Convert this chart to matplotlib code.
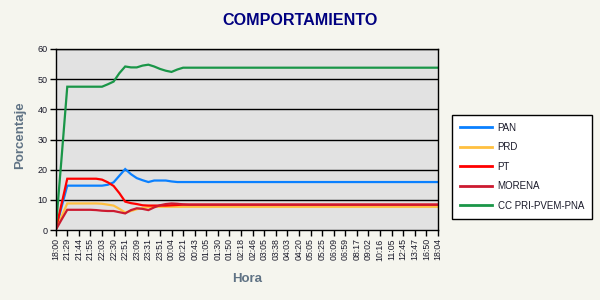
import matplotlib
matplotlib.use("Agg")
import matplotlib.pyplot as plt
import numpy as np

# Time-stamp labels (one label every second reading)
hour_labels = [
    "18:00", "21:29", "21:44", "21:55", "22:03", "22:30", "22:51", "23:09",
    "23:31", "23:51", "00:04", "00:21", "00:43", "01:05", "01:30", "01:50",
    "02:18", "02:46", "03:05", "03:38", "04:03", "04:20", "05:05", "05:25",
    "06:09", "06:59", "08:17", "09:02", "10:16", "11:05", "12:45", "13:47",
    "16:50", "18:04",
]

# Percentage per reading (67 readings)
pan = [
    0.0, 7.5, 14.7, 14.7, 14.7, 14.7, 14.7, 14.7, 14.7, 15.0, 15.8, 18.0,
    20.2, 18.5, 17.2, 16.5, 15.9, 16.4, 16.4, 16.4, 16.1, 15.9, 15.9, 15.9,
    15.9, 15.9, 15.9, 15.9, 15.9, 15.9, 15.9, 15.9, 15.9, 15.9, 15.9, 15.9,
    15.9, 15.9, 15.9, 15.9, 15.9, 15.9, 15.9, 15.9, 15.9, 15.9, 15.9, 15.9,
    15.9, 15.9, 15.9, 15.9, 15.9, 15.9, 15.9, 15.9, 15.9, 15.9, 15.9, 15.9,
    15.9, 15.9, 15.9, 15.9, 15.9, 15.9, 15.9,
]
prd = [
    0.0, 4.4, 8.8, 8.8, 8.8, 8.8, 8.8, 8.8, 8.7, 8.4, 8.1, 7.0,
    5.8, 6.3, 6.9, 7.3, 7.6, 7.7, 7.7, 7.7, 7.7, 7.7, 7.7, 7.7,
    7.7, 7.7, 7.7, 7.7, 7.7, 7.7, 7.7, 7.7, 7.7, 7.7, 7.7, 7.7,
    7.7, 7.7, 7.7, 7.7, 7.7, 7.7, 7.7, 7.7, 7.7, 7.7, 7.7, 7.7,
    7.7, 7.7, 7.7, 7.7, 7.7, 7.7, 7.7, 7.7, 7.7, 7.7, 7.7, 7.7,
    7.7, 7.7, 7.7, 7.7, 7.7, 7.7, 7.7,
]
pt = [
    0.0, 8.5, 17.0, 17.0, 17.0, 17.0, 17.0, 17.0, 16.7, 15.8, 14.6, 12.2,
    9.4, 8.9, 8.6, 8.2, 8.1, 8.1, 8.1, 8.1, 8.2, 8.3, 8.4, 8.4,
    8.4, 8.4, 8.4, 8.4, 8.4, 8.4, 8.4, 8.4, 8.4, 8.4, 8.4, 8.4,
    8.4, 8.4, 8.4, 8.4, 8.4, 8.4, 8.4, 8.4, 8.4, 8.4, 8.4, 8.4,
    8.4, 8.4, 8.4, 8.4, 8.4, 8.4, 8.4, 8.4, 8.4, 8.4, 8.4, 8.4,
    8.4, 8.4, 8.4, 8.4, 8.4, 8.4, 8.4,
]
morena = [
    0.0, 3.4, 6.7, 6.7, 6.7, 6.7, 6.7, 6.6, 6.4, 6.3, 6.3, 5.9,
    5.5, 6.6, 7.2, 7.0, 6.6, 7.5, 8.2, 8.6, 8.8, 8.7, 8.5, 8.4,
    8.4, 8.4, 8.4, 8.4, 8.4, 8.4, 8.4, 8.4, 8.4, 8.4, 8.4, 8.4,
    8.4, 8.4, 8.4, 8.4, 8.4, 8.4, 8.4, 8.4, 8.4, 8.4, 8.4, 8.4,
    8.4, 8.4, 8.4, 8.4, 8.4, 8.4, 8.4, 8.4, 8.4, 8.4, 8.4, 8.4,
    8.4, 8.4, 8.4, 8.4, 8.4, 8.4, 8.4,
]
cc_pri = [
    0.0, 23.5, 47.5, 47.5, 47.5, 47.5, 47.5, 47.5, 47.5, 48.3, 49.2, 52.0,
    54.2, 53.9, 53.9, 54.5, 54.8, 54.2, 53.4, 52.8, 52.4, 53.2, 53.8, 53.8,
    53.8, 53.8, 53.8, 53.8, 53.8, 53.8, 53.8, 53.8, 53.8, 53.8, 53.8, 53.8,
    53.8, 53.8, 53.8, 53.8, 53.8, 53.8, 53.8, 53.8, 53.8, 53.8, 53.8, 53.8,
    53.8, 53.8, 53.8, 53.8, 53.8, 53.8, 53.8, 53.8, 53.8, 53.8, 53.8, 53.8,
    53.8, 53.8, 53.8, 53.8, 53.8, 53.8, 53.8,
]

series_names = ["PAN", "PRD", "PT", "MORENA", "CC PRI-PVEM-PNA"]
series_values = [pan, prd, pt, morena, cc_pri]
series_colors = ["#0a80ff", "#ffc040", "#ff0000", "#cc1a30", "#1a9648"]

y_ticks = [0, 10, 20, 30, 40, 50, 60]

page_bg = "#f5f5ee"
label_color = "#5f7284"
tick_color = "#1a1a2a"

fig = plt.figure(figsize=(6, 3), dpi=100, facecolor=page_bg)
ax = fig.add_axes([0.0928, 0.2333, 0.6372, 0.6034])
ax.set_facecolor("#e2e2e2")

x = np.arange(len(pan))
for name, vals, col in zip(series_names, series_values, series_colors):
    ax.plot(x, vals, color=col, lw=1.6, label=name, solid_joinstyle="miter")

ax.set_xlim(0, len(pan) - 1)
ax.set_ylim(0, 60)
ax.set_yticks(y_ticks)
ax.set_yticklabels([str(v) for v in y_ticks])
ax.set_xticks(np.arange(0, len(pan), 2))
ax.set_xticklabels(hour_labels, rotation=90)

for v in y_ticks[1:]:
    ax.axhline(v, color="black", lw=1.0, zorder=1)

for side in ["left", "bottom", "right", "top"]:
    ax.spines[side].set_color("black")
    ax.spines[side].set_linewidth(1.0)

ax.tick_params(axis="both", direction="out", length=4, width=1.0,
               color="black", labelsize=6.5, labelcolor=tick_color, pad=2)
for lab in ax.get_xticklabels() + ax.get_yticklabels():
    lab.set_family("Liberation Sans")
for lab in ax.get_xticklabels():
    lab.set_fontsize(6.3)

fig.text(0.5, 0.933, "COMPORTAMIENTO", ha="center", va="center",
         fontsize=11.6, fontweight="bold", color="#000080",
         family="Liberation Sans")
fig.text(0.034, 0.55, "Porcentaje", ha="center", va="center", rotation=90,
         fontsize=9.5, fontweight="bold", color=label_color,
         family="Liberation Sans")
fig.text(0.4115, 0.07, "Hora", ha="center", va="center",
         fontsize=9.5, fontweight="bold", color=label_color,
         family="Liberation Sans")

leg = fig.legend(loc="upper left", bbox_to_anchor=(452 / 600, 1 - 115 / 300),
                 frameon=True, fancybox=False, edgecolor="black",
                 facecolor="white", framealpha=1.0,
                 prop={"family": "Liberation Sans", "size": 7},
                 handlelength=3.3, handletextpad=0.6, labelspacing=0.98,
                 borderpad=0.8, borderaxespad=0)
leg.get_frame().set_linewidth(1.0)
leg.get_frame().set_boxstyle("square", pad=0)
for line in leg.get_lines():
    line.set_linewidth(2.0)
for t in leg.get_texts():
    t.set_color(tick_color)

fig.savefig("out.png", dpi=100, facecolor=page_bg)
